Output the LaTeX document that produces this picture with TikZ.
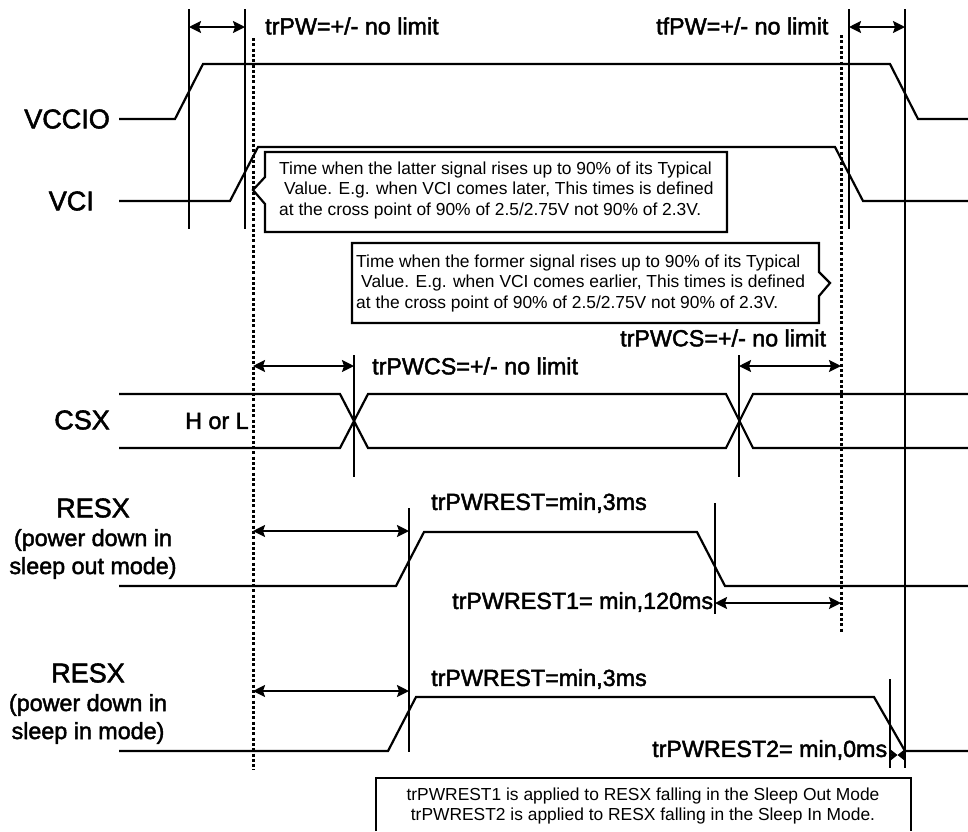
\documentclass[tikz,border=0pt]{standalone}
\usepackage{fontspec}
\setmainfont{Liberation Sans}
\newfontfamily\heavyfont[FakeBold=2]{Liberation Sans}
\usetikzlibrary{arrows.meta, positioning}

\begin{document}
\begin{tikzpicture}[x=1pt, y=-1pt]
    \tikzstyle{signal} = [line width=2.2pt, line join=miter]
    \tikzstyle{marker} = [line width=2pt]
    \tikzstyle{guide} = [line width=3pt, dash pattern=on 3pt off 2.3pt]
    \tikzstyle{span} = [line width=2pt, {Stealth[length=12pt,width=12pt,inset=2pt]}-{Stealth[length=12pt,width=12pt,inset=2pt]}]
    \tikzstyle{note} = [line width=2.2pt, fill=white]
    \tikzstyle{timing} = [font=\heavyfont\fontsize{23.3}{26}\selectfont, inner sep=0pt]
    \tikzstyle{sig_name} = [font=\heavyfont\fontsize{27}{30}\selectfont, inner sep=0pt]
    \tikzstyle{sig_sub} = [font=\heavyfont\fontsize{23.3}{28}\selectfont, inner sep=0pt, align=center]
    \tikzstyle{note_text} = [font=\fontsize{17.4}{20.5}\selectfont, inner sep=0pt]

    \useasboundingbox (0,0) rectangle (968,831);

    % Waveforms
    \draw[signal] (119,119) -- (175,119) -- (203,64) -- (890,64) -- (918,119) -- (968,119);
    \draw[signal] (119,201) -- (230,201) -- (258,147) -- (835,147) -- (863,201) -- (968,201);
    \draw[signal] (119,394) -- (340,394) -- (368,448) -- (726,448) -- (753,394) -- (968,394);
    \draw[signal] (119,448) -- (340,448) -- (368,394) -- (726,394) -- (753,448) -- (968,448);
    \draw[signal] (119,586) -- (396,586) -- (424,532) -- (697,532) -- (725,586) -- (968,586);
    \draw[signal] (119,751) -- (388,751) -- (416,697) -- (874,697) -- (905,751) -- (968,751);

    % Top and bottom ends of the markers
    \coordinate (m1t) at (189,9);     \coordinate (m1b) at (189,229);
    \coordinate (m2t) at (245,9);     \coordinate (m2b) at (245,229);
    \coordinate (m3t) at (849,9);     \coordinate (m3b) at (849,229);
    \coordinate (m4t) at (905,9);     \coordinate (m4b) at (905,768);
    \coordinate (d1t) at (253,38);    \coordinate (d1b) at (253,770);
    \coordinate (d2t) at (841,35);    \coordinate (d2b) at (841,632);
    \coordinate (c1t) at (354,355);   \coordinate (c1b) at (354,477);
    \coordinate (c2t) at (739,355);   \coordinate (c2b) at (739,477);
    \coordinate (r1t) at (409,508);   \coordinate (r1b) at (409,752);
    \coordinate (r2t) at (715,503);   \coordinate (r2b) at (715,614);
    \coordinate (r3t) at (890,679);   \coordinate (r3b) at (890,768);

    \foreach \m in {m1,m2,m3,m4,c1,c2,r1,r2,r3}
        \draw[marker] (\m t) -- (\m b);
    \foreach \m in {d1,d2}
        \draw[guide] (\m t) -- (\m b);

    % Notes
    \draw[note] (265,152) -- (727,152) -- (727,232) -- (265,232) -- (265,204) -- (253,190) -- (265,177) -- cycle;
    \draw[note] (352,243) -- (819,243) -- (819,272) -- (830,283) -- (819,296) -- (819,323) -- (352,323) -- cycle;
    \draw[note] (376,831) -- (376,778) -- (911,778) -- (911,831);

    \node[note_text, anchor=west, align=left] (note_latter) at (279,190) {Time when the latter signal rises up to 90\% of its Typical\\\hspace*{5pt}Value. E.g. when VCI comes later, This times is defined\\at the cross point of 90\% of 2.5/2.75V not 90\% of 2.3V.};
    \node[note_text, anchor=west, align=left] (note_former) at (356,283) {Time when the former signal rises up to 90\% of its Typical\\\hspace*{5pt}Value. E.g. when VCI comes earlier, This times is defined\\at the cross point of 90\% of 2.5/2.75V not 90\% of 2.3V.};
    \node[note_text, align=center] (note_resx) at (643,806) {trPWREST1 is applied to RESX falling in the Sleep Out Mode\\trPWREST2 is applied to RESX falling in the Sleep In Mode.};

    % Spans
    \coordinate (s1a) at (189,27);  \coordinate (s1b) at (245,27);
    \coordinate (s2a) at (849,27);  \coordinate (s2b) at (905,27);
    \coordinate (s3a) at (253,366); \coordinate (s3b) at (354,366);
    \coordinate (s4a) at (739,366); \coordinate (s4b) at (841,366);
    \coordinate (s5a) at (253,531); \coordinate (s5b) at (409,531);
    \coordinate (s6a) at (715,603); \coordinate (s6b) at (841,603);
    \coordinate (s7a) at (253,691); \coordinate (s7b) at (409,691);

    \foreach \s in {s1,s2,s3,s4,s5,s6,s7}
        \draw[span] (\s a) -- (\s b);

    % Pinched arrows at the last marker
    \coordinate (p1) at (890,755);
    \coordinate (p2) at (905,755);
    \coordinate (pm) at (897.5,755);
    \draw[marker, -{Stealth[length=7pt,width=11pt,inset=1pt]}] (p1) -- (pm);
    \draw[marker, -{Stealth[length=7pt,width=11pt,inset=1pt]}] (p2) -- (pm);

    % Timing labels
    \node[timing, anchor=west] (trpw) at (265,26) {trPW=+/- no limit};
    \node[timing, anchor=west] (tfpw) at (656,26) {tfPW=+/- no limit};
    \node[timing, anchor=west] (trpwcs_r) at (620,338) {trPWCS=+/- no limit};
    \node[timing, anchor=west] (trpwcs_l) at (372,366) {trPWCS=+/- no limit};
    \node[timing, anchor=west] (hl) at (185,421) {H or L};
    \node[timing, anchor=west] (trest_a) at (431,503) {trPWREST=min,3ms};
    \node[timing, anchor=west] (trest_b) at (452,602) {trPWREST1= min,120ms};
    \node[timing, anchor=west] (trest_c) at (431,679) {trPWREST=min,3ms};
    \node[timing, anchor=west] (trest_d) at (652,750) {trPWREST2= min,0ms};

    % Signal names
    \node[sig_name, anchor=east] (vccio) at (110,119) {VCCIO};
    \node[sig_name, anchor=east] (vci) at (94,201) {VCI};
    \node[sig_name, anchor=east] (csx) at (110,420) {CSX};
    \node[sig_name] (resx1) at (93,508) {RESX};
    \node[sig_sub] (resx1_sub) at (93,554) {(power down in\\sleep out mode)};
    \node[sig_name] (resx2) at (88,673) {RESX};
    \node[sig_sub] (resx2_sub) at (88,719) {(power down in\\sleep in mode)};
\end{tikzpicture}
\end{document}
